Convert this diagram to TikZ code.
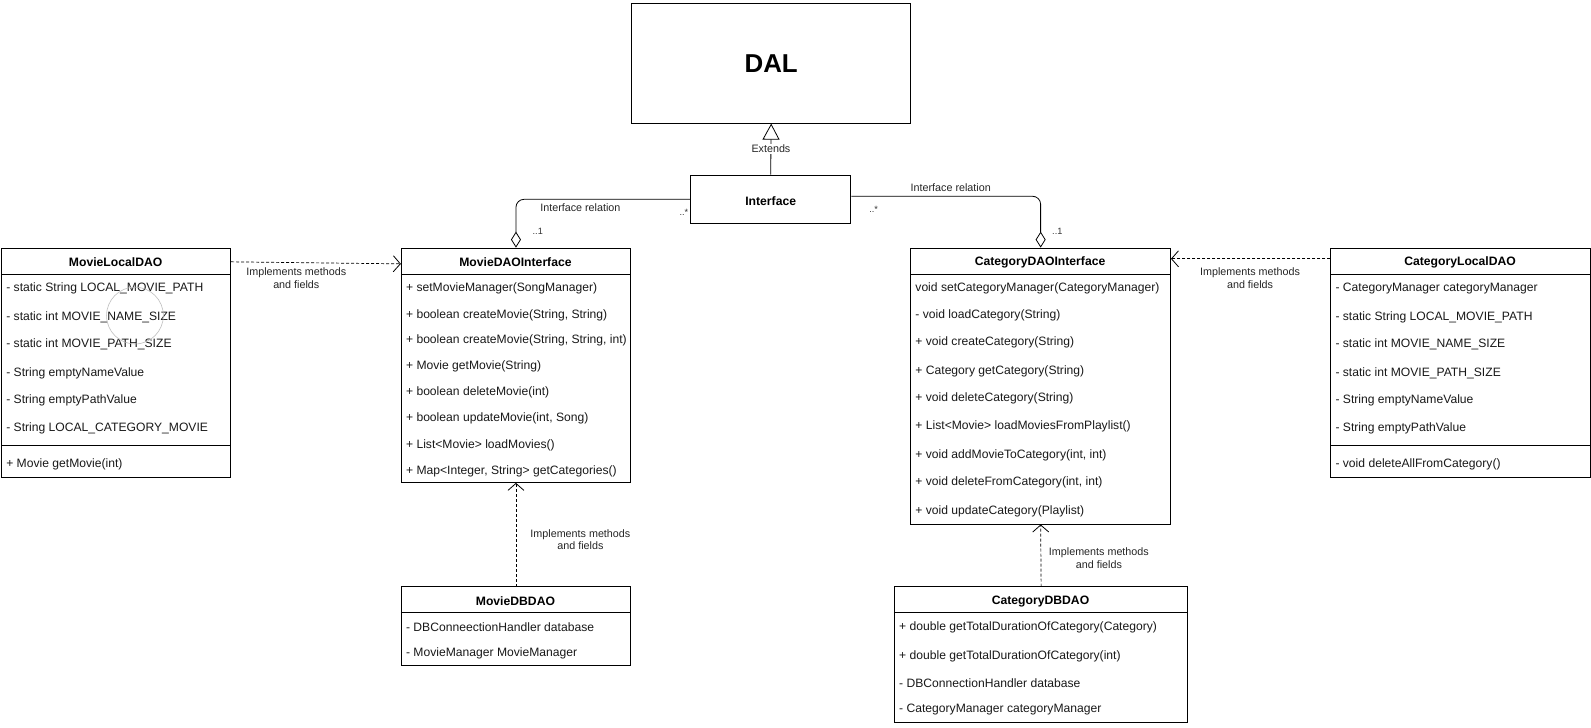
\documentclass[tikz,border=0pt]{standalone}
\usepackage{fontspec}
\setmainfont{Liberation Sans}
\usetikzlibrary{arrows.meta}
\tikzset{
  cls/.style={draw, line width=0.8pt, fill=white, inner sep=0pt, anchor=north west},
  ttl/.style={font=\bfseries\fontsize{12}{14}\selectfont, inner sep=0pt, yshift=-1.5pt},
  itm/.style={anchor=west, font=\fontsize{11.95}{14}\selectfont, text=black!90, inner sep=0pt, yshift=-1.5pt},
  lbl/.style={font=\fontsize{10.6}{12.4}\selectfont, align=center, text=black!85, inner sep=1pt},
  mult/.style={font=\fontsize{9}{10}\selectfont, text=black!80, inner sep=0pt},
  sep/.style={line width=0.8pt},
  impl/.style={dashed, line width=0.7pt, dash pattern=on 3pt off 2pt, -{Straight Barb[length=7pt,width=16pt,line width=0.8pt]}},
  assoc/.style={line width=0.8pt, rounded corners=8pt, -{Diamond[open,length=16pt,width=10pt,line width=0.8pt]}},
  ext/.style={line width=0.8pt, -{Triangle[open,length=16pt,width=17pt,line width=0.8pt,fill=white]}}
}
\begin{document}
\begin{tikzpicture}[x=1pt,y=1pt,scale=1.01467,every node/.append style={transform shape}]
\useasboundingbox (0,0) rectangle (1568,-716.5);
\fill[white] (0,0) rectangle (1568,-716.5);

% DAL
\node[cls, minimum width=275, minimum height=118] (dal) at (622,-3) {};
\node[font=\bfseries\fontsize{25.5}{30}\selectfont] (daltxt) at (dal.center) {DAL};

% Interface
\node[cls, minimum width=158, minimum height=48] (iface) at (680,-172) {};
\node[ttl] (ifacetxt) at (iface.center) {Interface};

% MovieLocalDAO
\node[cls, minimum width=226, minimum height=226] (mld) at (1,-244) {};
\draw[sep] (1,-270) -- (227,-270);
\draw[sep] (1,-439) -- (227,-439);
\node[ttl] (mldt) at (114,-257) {MovieLocalDAO};
\node[itm] (mld1) at (6,-283) {- static String LOCAL\_MOVIE\_PATH};
\node[itm] (mld2) at (6,-311) {- static int MOVIE\_NAME\_SIZE};
\node[itm] (mld3) at (6,-338) {- static int MOVIE\_PATH\_SIZE};
\node[itm] (mld4) at (6,-366) {- String emptyNameValue};
\node[itm] (mld5) at (6,-393) {- String emptyPathValue};
\node[itm] (mld6) at (6,-421) {- String LOCAL\_CATEGORY\_MOVIE};
\node[itm] (mld7) at (6,-456) {+ Movie getMovie(int)};
\draw[draw=black!25, line width=0.6pt] (133,-311) circle (28);

% MovieDAOInterface
\node[cls, minimum width=226, minimum height=231] (mdi) at (395,-244) {};
\draw[sep] (395,-270) -- (621,-270);
\node[ttl] (mdit) at (508,-257) {MovieDAOInterface};
\node[itm] (mdi1) at (400,-283) {+ setMovieManager(SongManager)};
\node[itm] (mdi2) at (400,-309) {+ boolean createMovie(String, String)};
\node[itm] (mdi3) at (400,-334) {+ boolean createMovie(String, String, int)};
\node[itm] (mdi4) at (400,-360) {+ Movie getMovie(String)};
\node[itm] (mdi5) at (400,-385) {+ boolean deleteMovie(int)};
\node[itm] (mdi6) at (400,-411) {+ boolean updateMovie(int, Song)};
\node[itm] (mdi7) at (400,-437) {+ List<Movie> loadMovies()};
\node[itm] (mdi8) at (400,-463) {+ Map<Integer, String> getCategories()};

% CategoryDAOInterface
\node[cls, minimum width=256, minimum height=272] (cdi) at (897,-244) {};
\draw[sep] (897,-270) -- (1153,-270);
\node[ttl] (cdit) at (1025,-257) {CategoryDAOInterface};
\node[itm] (cdi1) at (902,-283) {void setCategoryManager(CategoryManager)};
\node[itm] (cdi2) at (902,-309) {- void loadCategory(String)};
\node[itm] (cdi3) at (902,-336) {+ void createCategory(String)};
\node[itm] (cdi4) at (902,-364) {+ Category getCategory(String)};
\node[itm] (cdi5) at (902,-391) {+ void deleteCategory(String)};
\node[itm] (cdi6) at (902,-419) {+ List<Movie> loadMoviesFromPlaylist()};
\node[itm] (cdi7) at (902,-447) {+ void addMovieToCategory(int, int)};
\node[itm] (cdi8) at (902,-474) {+ void deleteFromCategory(int, int)};
\node[itm] (cdi9) at (902,-502) {+ void updateCategory(Playlist)};

% CategoryLocalDAO
\node[cls, minimum width=256, minimum height=226] (cld) at (1311,-244) {};
\draw[sep] (1311,-270) -- (1567,-270);
\draw[sep] (1311,-439) -- (1567,-439);
\node[ttl] (cldt) at (1439,-257) {CategoryLocalDAO};
\node[itm] (cld1) at (1316,-283) {- CategoryManager categoryManager};
\node[itm] (cld2) at (1316,-311) {- static String LOCAL\_MOVIE\_PATH};
\node[itm] (cld3) at (1316,-338) {- static int MOVIE\_NAME\_SIZE};
\node[itm] (cld4) at (1316,-366) {- static int MOVIE\_PATH\_SIZE};
\node[itm] (cld5) at (1316,-393) {- String emptyNameValue};
\node[itm] (cld6) at (1316,-421) {- String emptyPathValue};
\node[itm] (cld7) at (1316,-456) {- void deleteAllFromCategory()};

% MovieDBDAO
\node[cls, minimum width=226, minimum height=77] (mdb) at (395,-578) {};
\draw[sep] (395,-604) -- (621,-604);
\node[ttl] (mdbt) at (508,-591) {MovieDBDAO};
\node[itm] (mdb1) at (400,-617) {- DBConneectionHandler database};
\node[itm] (mdb2) at (400,-642) {- MovieManager MovieManager};

% CategoryDBDAO
\node[cls, minimum width=289, minimum height=134] (cdb) at (881,-578) {};
\draw[sep] (881,-604) -- (1170,-604);
\node[ttl] (cdbt) at (1025.5,-591) {CategoryDBDAO};
\node[itm] (cdb1) at (886,-617) {+ double getTotalDurationOfCategory(Category)};
\node[itm] (cdb2) at (886,-645) {+ double getTotalDurationOfCategory(int)};
\node[itm] (cdb3) at (886,-672) {- DBConnectionHandler database};
\node[itm] (cdb4) at (886,-698) {- CategoryManager categoryManager};

% Extends
\draw[ext] (iface.north) -- (dal.south) node[pos=0.5, lbl, fill=white] (extl) {Extends};

% Interface relations
\draw[assoc] (iface.west) -| (mdi.north);
\node[lbl] (irl1) at (572,-205) {Interface relation};
\node[mult] (m1a) at (674,-209) {..*};
\node[mult] (m1b) at (530,-228) {..1};
\draw[assoc] ([yshift=3pt]iface.east) -| (cdi.north);
\node[lbl] (irl2) at (937,-185) {Interface relation};
\node[mult] (m2a) at (861,-206) {..*};
\node[mult] (m2b) at (1042,-228) {..1};

% Implements
\draw[impl] ([yshift=-14pt]mld.north east) -- ([yshift=-16pt]mdi.north west);
\node[lbl] (il1) at (292,-274) {Implements methods\\and fields};
\draw[impl] ([yshift=-11pt]cld.north west) -- ([yshift=-11pt]cdi.north east);
\node[lbl] (il2) at (1232,-274) {Implements methods\\and fields};
\draw[impl] (mdb.north) -- (mdi.south);
\node[lbl] (il3) at (572,-532) {Implements methods\\and fields};
\draw[impl] (cdb.north) -- (cdi.south);
\node[lbl] (il4) at (1083,-550) {Implements methods\\and fields};
\end{tikzpicture}
\end{document}
